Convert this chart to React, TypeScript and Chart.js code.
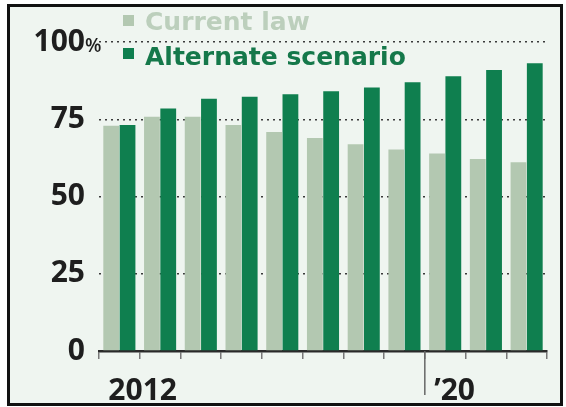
import React, { useEffect, useRef } from "react";
import { Chart, registerables } from "chart.js";

Chart.register(...registerables);

const years = ["2012", "2013", "2014", "2015", "2016", "2017", "2018", "2019", "2020", "2021", "2022"];
const xTickLabels = ["2012", "", "", "", "", "", "", "", "\u201920", "", ""];
const currentLaw = [72.9, 75.8, 75.8, 73.1, 70.9, 68.9, 66.9, 65.2, 63.9, 62.1, 61.1];
const alternateScenario = [73.1, 78.5, 81.6, 82.3, 83.1, 84.1, 85.3, 87.0, 88.9, 90.9, 93.1];
const seriesNames = ["Current law", "Alternate scenario"];
const barColors = ["#b3c8b1", "#0f7f4f"];
const legendTextColors = ["#bccfbc", "#15784a"];
const yTickValues = [0, 25, 50, 75, 100];

const TICK_FONT = '"Open Sans", "DejaVu Sans", sans-serif';
const LEGEND_FONT = '"DejaVu Sans", "Open Sans", sans-serif';

const decorPlugin = {
  id: "decor",
  afterDraw(chart: any) {
    const { ctx, chartArea, scales } = chart;
    const x = scales.x;
    const y = scales.y;
    ctx.save();
    // long tick before 2020
    const idx = xTickLabels.findIndex((s) => s.indexOf("20") >= 0 && s !== "2012");
    if (idx > 0) {
      const bx = (x.getPixelForValue(idx - 1) + x.getPixelForValue(idx)) / 2;
      ctx.strokeStyle = "#666";
      ctx.lineWidth = 1.5;
      ctx.beginPath();
      ctx.moveTo(bx, chartArea.bottom);
      ctx.lineTo(bx, chartArea.bottom + 44);
      ctx.stroke();
    }
    // percent sign after top tick
    const topVal = yTickValues[yTickValues.length - 1];
    ctx.fillStyle = "#1e1e1e";
    ctx.font = `600 19px ${TICK_FONT}`;
    ctx.textAlign = "left";
    ctx.textBaseline = "alphabetic";
    ctx.fillText("%", chartArea.left - 14, y.getPixelForValue(topVal) + 10);

    // legend
    const sqX = 123;
    const textX = 145;
    const sqTops = [15, 48];
    const baselines = [30, 65];
    chart.data.datasets.forEach((ds: any, i: number) => {
      ctx.fillStyle = ds.backgroundColor;
      ctx.fillRect(sqX, sqTops[i], 11, 11);
      ctx.fillStyle = legendTextColors[i];
      ctx.font = `bold 25px ${LEGEND_FONT}`;
      ctx.fillText(ds.label, textX, baselines[i]);
    });
    ctx.restore();
  },
};

export default function App() {
  const ref = useRef<HTMLCanvasElement>(null);

  useEffect(() => {
    const canvas = ref.current;
    if (!canvas) return;
    const chart = new Chart(canvas, {
      type: "bar",
      data: {
        labels: years,
        datasets: [
          {
            label: seriesNames[0],
            data: currentLaw,
            backgroundColor: barColors[0],
            categoryPercentage: 0.8,
            barPercentage: 0.97,
          },
          {
            label: seriesNames[1],
            data: alternateScenario,
            backgroundColor: barColors[1],
            categoryPercentage: 0.8,
            barPercentage: 0.97,
          },
        ],
      },
      options: {
        responsive: false,
        animation: false,
        devicePixelRatio: 1,
        layout: { padding: { top: 42, right: 19, left: 0, bottom: 0 } },
        plugins: { legend: { display: false }, tooltip: { enabled: false } },
        scales: {
          x: {
            type: "category",
            offset: true,
            grid: {
              display: true,
              drawOnChartArea: false,
              drawTicks: true,
              tickLength: 8,
              offset: true,
              color: (c: any) => (c.index >= years.length ? "rgba(0,0,0,0)" : "#777"),
              lineWidth: 1.5,
            },
            border: { display: true, color: "#2a2a2a", width: 2.5 },
            ticks: {
              autoSkip: false,
              maxRotation: 0,
              minRotation: 0,
              align: "start",
              labelOffset: -11,
              padding: 14,
              color: "#1e1e1e",
              font: { family: TICK_FONT, weight: "bold", size: 30 },
              callback: (_v: any, i: number) => xTickLabels[i],
            },
            afterFit: (s: any) => {
              s.height = 56;
            },
          },
          y: {
            min: 0,
            max: 100,
            afterBuildTicks: (s: any) => {
              s.ticks = yTickValues.map((v) => ({ value: v }));
            },
            ticks: {
              padding: 14,
              color: "#1e1e1e",
              font: { family: TICK_FONT, weight: "bold", size: 30 },
              callback: (v: any) => String(v),
            },
            grid: {
              drawTicks: false,
              lineWidth: 1.5,
              color: (c: any) => (c.tick && c.tick.value === 0 ? "rgba(0,0,0,0)" : "#3a3a3a"),
            },
            border: { display: false, dash: [2, 4] },
            afterFit: (s: any) => {
              s.width = 99;
            },
          },
        },
      },
      plugins: [decorPlugin],
    } as any);
    return () => chart.destroy();
  }, []);

  return (
    <div style={{ position: "fixed", left: 0, top: 0, width: 566, height: 407, background: "#ffffff", overflow: "hidden" }}>
      <div
        style={{
          position: "absolute",
          left: 7,
          top: 4,
          width: 550,
          height: 396,
          border: "3px solid #111",
          background: "#eff5f0",
        }}
      />
      <canvas ref={ref} width={566} height={407} style={{ position: "absolute", left: 0, top: 0, width: 566, height: 407 }} />
    </div>
  );
}
